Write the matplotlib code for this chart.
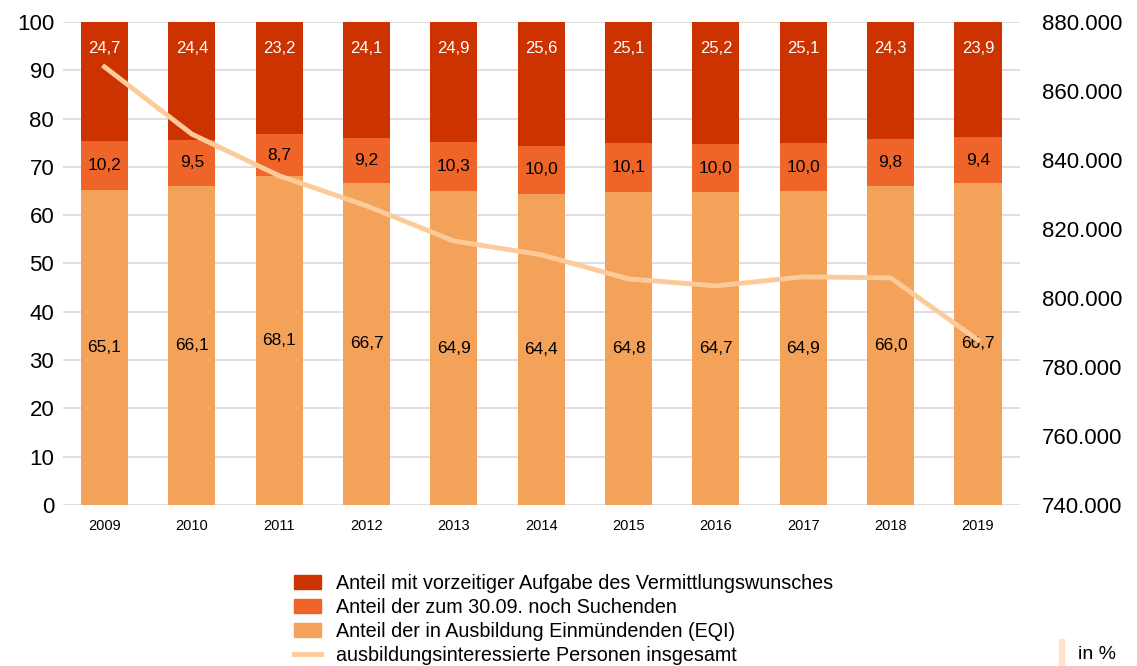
import numpy as np
import matplotlib.pyplot as plt
from matplotlib.patches import Patch
from matplotlib.lines import Line2D

plt.rcParams['font.family'] = ['Liberation Sans', 'DejaVu Sans']

years = ["2009", "2010", "2011", "2012", "2013", "2014", "2015", "2016", "2017", "2018", "2019"]
eqi = [65.1, 66.1, 68.1, 66.7, 64.9, 64.4, 64.8, 64.7, 64.9, 66.0, 66.7]
suchende = [10.2, 9.5, 8.7, 9.2, 10.3, 10.0, 10.1, 10.0, 10.0, 9.8, 9.4]
aufgabe = [24.7, 24.4, 23.2, 24.1, 24.9, 25.6, 25.1, 25.2, 25.1, 24.3, 23.9]
personen = [867000, 847500, 835400, 826700, 816500, 812500, 805500, 803500, 806100, 805800, 787800]

c_eqi = "#F4A15A"
c_such = "#EE6429"
c_aufg = "#CC3300"
c_line = "#FDCB9A"

fig = plt.figure(figsize=(11.37, 6.66), dpi=100)
ax = fig.add_axes([0.055, 0.242, 0.842, 0.725])
ax2 = ax.twinx()

x = np.arange(len(years))
w = 0.54
ax.bar(x, eqi, w, color=c_eqi, zorder=2)
ax.bar(x, suchende, w, bottom=eqi, color=c_such, zorder=2)
bottom2 = [a + b for a, b in zip(eqi, suchende)]
ax.bar(x, aufgabe, w, bottom=bottom2, color=c_aufg, zorder=2)

def fmt(v):
    return f"{v:.1f}".replace(".", ",")

for i in range(len(years)):
    ax.text(x[i], eqi[i] / 2, fmt(eqi[i]), ha="center", va="center", fontsize=12.5, color="black", zorder=4)
    ax.text(x[i], eqi[i] + suchende[i] / 2, fmt(suchende[i]), ha="center", va="center", fontsize=12.5, color="black", zorder=4)
    ax.text(x[i], 94.6, fmt(aufgabe[i]), ha="center", va="center", fontsize=12, color="white", zorder=4)

ax.set_ylim(0, 100)
ax.set_xlim(-0.48, len(years) - 0.52)
ax.set_yticks(range(0, 101, 10))
ax.grid(axis="y", color="#d9d9d9", linewidth=1.2, zorder=0)
ax.set_axisbelow(True)
ax.set_xticks(x)
ax.set_xticklabels(years, fontsize=10.5)
ax.tick_params(axis="y", labelsize=16, length=0, pad=6)
ax.tick_params(axis="x", length=0, pad=10)
for s in ax.spines.values():
    s.set_visible(False)

ax2.plot(x, personen, color=c_line, linewidth=3.5, zorder=3)
ax2.set_ylim(740000, 880000)
ax2.set_yticks(range(740000, 880001, 20000))
ax2.set_yticklabels([f"{v:,}".replace(",", ".") for v in range(740000, 880001, 20000)])
ax2.tick_params(axis="y", labelsize=16, length=0, pad=16)
for s in ax2.spines.values():
    s.set_visible(False)

handles = [
    Patch(color=c_aufg, label="Anteil mit vorzeitiger Aufgabe des Vermittlungswunsches"),
    Patch(color=c_such, label="Anteil der zum 30.09. noch Suchenden"),
    Patch(color=c_eqi, label="Anteil der in Ausbildung Einmündenden (EQI)"),
    Line2D([0], [0], color=c_line, linewidth=3.5, label="ausbildungsinteressierte Personen insgesamt"),
]
fig.legend(handles=handles, loc="upper left", bbox_to_anchor=(0.243, 0.165), frameon=False,
           fontsize=14.2, handlelength=1.35, handleheight=0.7, labelspacing=0.25, handletextpad=0.8)

fig.patches.append(plt.Rectangle((0.931, 0.0), 0.005, 0.04, color="#FDE3CC", transform=fig.transFigure))
fig.text(0.948, 0.017, "in %", fontsize=14, va="center")

fig.savefig("out.png", dpi=100)
